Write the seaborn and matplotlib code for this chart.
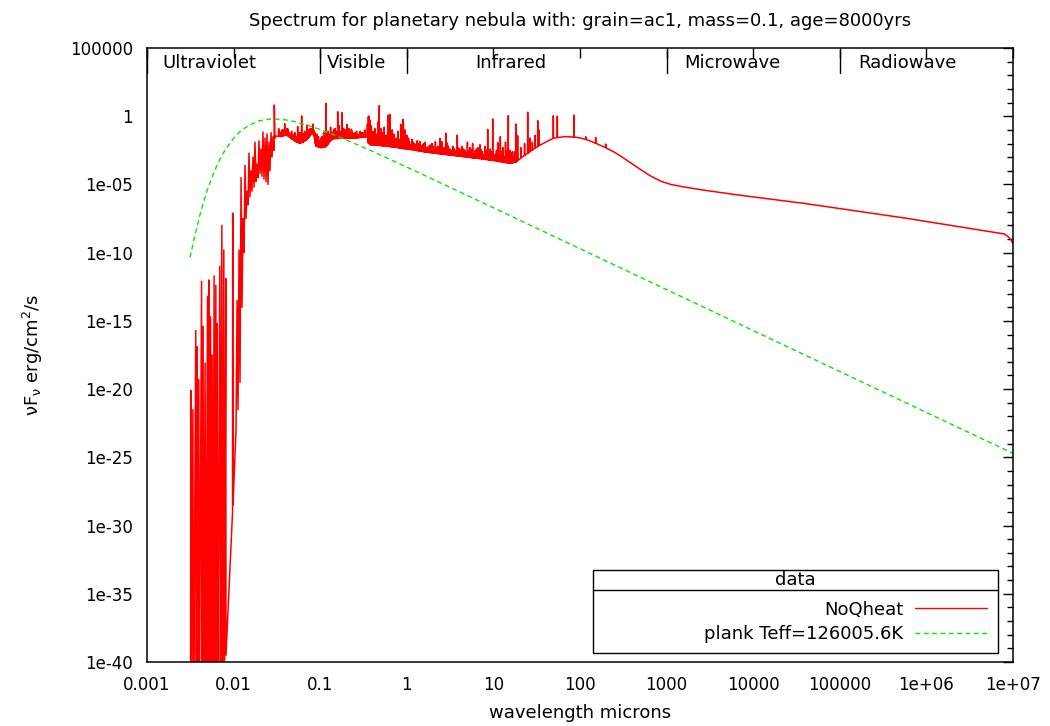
import numpy as np
import pandas as pd
import matplotlib
matplotlib.use("Agg")
import matplotlib.pyplot as plt
import seaborn as sns
from matplotlib.ticker import FixedLocator, NullLocator, NullFormatter
from matplotlib.lines import Line2D
from matplotlib.patches import Rectangle

# ---------------- text ----------------
title = "Spectrum for planetary nebula with: grain=ac1, mass=0.1, age=8000yrs"
xlabel = "wavelength microns"
ylabel = r"$\mathrm{\nu F_{\nu}}$ erg/cm$^{2}$/s"
series_names = ["NoQheat", "plank Teff=126005.6K"]
legend_title = "data"

x_ticks = [1e-3, 1e-2, 1e-1, 1e0, 1e1, 1e2, 1e3, 1e4, 1e5, 1e6, 1e7]
x_tick_labels = ["0.001", "0.01", "0.1", "1", "10", "100", "1000", "10000",
                 "100000", "1e+06", "1e+07"]
y_ticks = [1e5, 1e0, 1e-5, 1e-10, 1e-15, 1e-20, 1e-25, 1e-30, 1e-35, 1e-40]
y_tick_labels = ["100000", "1", "1e-05", "1e-10", "1e-15", "1e-20", "1e-25",
                 "1e-30", "1e-35", "1e-40"]
y_minor_exponents = list(range(-40, 6))

region_names = ["Ultraviolet", "Visible", "Infrared", "Microwave", "Radiowave"]
region_label_wl = [0.0053, 0.266, 16.0, 5700.0, 6.0e5]
region_bounds_wl = [0.001, 0.1, 1.0, 1000.0, 1.0e5]

# ---------------- NoQheat spectrum (log10 values) -------
# UV line forest and steep rise (explicit points)
uv_wl_log = [-2.497, -2.494, -2.487, -2.470, -2.462, -2.437, -2.431, -2.420,
             -2.414, -2.402, -2.396, -2.370, -2.364, -2.352, -2.346, -2.329,
             -2.322, -2.301, -2.294, -2.286, -2.280, -2.266, -2.260, -2.248,
             -2.241, -2.225, -2.219, -2.205, -2.199, -2.190, -2.184, -2.159,
             -2.153, -2.136, -2.130, -2.113, -2.107, -2.090, -2.088, -2.012,
             -2.010, -2.007,
             -1.972, -1.960, -1.949, -1.937, -1.926, -1.914, -1.903, -1.891,
             -1.880, -1.868, -1.857, -1.845, -1.834, -1.822, -1.811, -1.799,
             -1.788, -1.776, -1.764, -1.753, -1.741, -1.730, -1.718, -1.707,
             -1.695, -1.684, -1.672, -1.661, -1.649, -1.637, -1.626, -1.614,
             -1.603, -1.591, -1.580, -1.568, -1.557, -1.545, -1.533, -1.530,
             -1.522]
uv_flux_log = [-45, -20.1, -45, -21.5, -45, -15.7, -45, -16.9,
               -45, -19.3, -45, -12.1, -45, -15.4, -45, -18.1,
               -45, -13.2, -45, -12.0, -45, -14.7, -45, -17.5,
               -45, -11.7, -45, -12.4, -45, -15.2, -45, -11.0,
               -45, -8.0, -45, -9.8, -45, -11.9, -39.5, -29.0,
               -7.1, -28.5,
               -23.0, -13.5, -21.5, -9.8, -19.5, -4.5, -14.0, -7.5,
               -10.0, -3.6, -7.5, -5.5, -6.5, -2.7, -5.9, -4.0,
               -5.5, -3.0, -5.2, -1.9, -4.8, -3.5, -4.5, -1.8,
               -4.2, -2.4, -4.4, -1.16, -4.6, -1.6, -4.8, -1.3,
               -5.0, -1.9, -4.0, -1.2, -3.0, -1.5, -2.5, 0.82,
               -1.6]

# continuum from the plateau to the radio
cont_wl_log = [-1.51, -1.46, -1.42, -1.39, -1.35, -1.31, -1.27, -1.23, -1.19,
               -1.16, -1.12, -1.09, -1.07, -1.05, -1.00, -0.96, -0.93, -0.89,
               -0.85, -0.78, -0.69, -0.60, -0.52, -0.47, -0.45, -0.42, -0.30,
               -0.18, -0.08, 0.15, 0.38, 0.60, 0.77, 0.95, 1.10, 1.20, 1.25,
               1.30, 1.38, 1.46, 1.54, 1.64, 1.73, 1.83, 1.92, 2.02, 2.12,
               2.23, 2.31, 2.40, 2.47, 2.58, 2.70, 2.82, 2.94, 3.05, 3.17,
               3.41, 3.80, 4.59, 5.76, 6.90, 6.94, 6.97, 7.00]
cont_flux_log = [-1.45, -1.50, -1.42, -1.38, -1.55, -1.74, -1.90, -1.99, -1.85,
                 -1.74, -1.45, -1.20, -1.50, -2.20, -2.30, -2.28, -2.20, -1.85,
                 -1.65, -1.62, -1.62, -1.60, -1.55, -1.50, -1.95, -2.10, -2.15,
                 -2.25, -2.35, -2.55, -2.75, -2.92, -3.05, -3.20, -3.35, -3.45,
                 -3.35, -3.15, -2.78, -2.42, -2.11, -1.78, -1.57, -1.50, -1.52,
                 -1.62, -1.82, -2.12, -2.35, -2.65, -2.92, -3.40, -3.91, -4.40,
                 -4.78, -5.00, -5.15, -5.40, -5.75, -6.39, -7.47, -8.63, -8.81,
                 -9.00, -9.33]

# strong emission lines: wavelength, peak, underlying level
line_wl_log = [-1.48, -1.44, -1.41, -1.37, -1.33, -1.29, -1.26, -1.214, -1.18,
               -1.15, -1.13, -1.10, -1.08, -1.06, -1.04, -1.02, -0.99, -0.96,
               -0.933, -0.91, -0.88, -0.86, -0.83, -0.798, -0.78, -0.76, -0.748,
               -0.73, -0.71, -0.69, -0.66, -0.64, -0.61, -0.58, -0.55, -0.52,
               -0.455, -0.444, -0.435, -0.425, -0.41, -0.39, -0.37, -0.35,
               -0.33, -0.318, -0.30, -0.28, -0.26, -0.24, -0.214, -0.194,
               -0.17, -0.15, -0.12, -0.10, -0.07, -0.047, -0.04, -0.02, 0.00,
               0.03, 0.06, 0.09, 0.12, 0.15, 0.18, 0.21, 0.25, 0.29, 0.33,
               0.36, 0.383, 0.403, 0.42, 0.45, 0.468, 0.50, 0.53, 0.56, 0.583,
               0.61, 0.64, 0.67, 0.70, 0.73, 0.76, 0.79, 0.82, 0.845, 0.87,
               0.90, 0.934, 0.96, 0.992, 1.02, 1.05, 1.08, 1.11, 1.14, 1.172,
               1.19, 1.22, 1.258, 1.28, 1.32, 1.36, 1.396, 1.42, 1.45, 1.48,
               1.512, 1.527, 1.692, 1.738, 1.931, 2.066, 2.181, 2.297]
line_peak_log = [-0.9, -1.0, -0.55, -0.95, -1.1, -1.2, -0.75, 0.02, -1.1,
                 -0.64, -1.0, -0.9, -0.57, -1.2, -1.3, -1.5, -1.6, -1.2,
                 0.95, -1.1, -0.8, -1.2, -0.9, 0.33, -0.7, -1.1, 0.26,
                 -0.9, -1.0, -0.6, -1.2, -0.95, -1.25, -1.1, -1.3, -1.2,
                 -0.6, -0.03, 0.02, -0.3, -0.7, -1.1, -0.9, -1.3,
                 -0.4, 0.77, -0.9, -1.2, -0.8, -1.4, 0.09, 0.14,
                 -1.0, -1.3, -1.6, -1.1, -0.6, -0.28, -0.23, -1.0, -1.4,
                 -1.9, -1.7, -2.0, -1.8, -1.85, -2.1, -1.9, -2.2, -2.0, -1.87,
                 -2.2, -1.62, -1.85, -2.3, -1.25, -1.97, -2.4, -2.2, -2.5, -1.38,
                 -2.4, -2.2, -2.5, -1.9, -2.3, -2.0, -2.5, -2.3, -2.09, -2.6,
                 -2.2, -0.96, -2.4, -0.2, -2.8, -1.94, -1.5, -2.3, -1.9, 0.04,
                 -2.5, -2.6, -0.57, -1.43, -2.3, -2.0, 0.29, -1.6, -1.9, -1.4,
                 -0.33, -1.01, 0.04, 0.0, 0.09, -1.50, -1.55, -2.04]
line_base_log = [-1.48, -1.46, -1.41, -1.45, -1.65, -1.82, -1.92, -1.93, -1.82,
                 -1.70, -1.55, -1.28, -1.30, -1.80, -2.20, -2.25, -2.30, -2.28,
                 -2.20, -2.05, -1.80, -1.68, -1.64, -1.63, -1.62, -1.62, -1.62,
                 -1.62, -1.62, -1.62, -1.61, -1.61, -1.60, -1.59, -1.57, -1.55,
                 -1.50, -1.90, -2.00, -2.05, -2.10, -2.10, -2.10, -2.12,
                 -2.13, -2.14, -2.15, -2.16, -2.18, -2.19, -2.21, -2.22,
                 -2.24, -2.25, -2.28, -2.30, -2.35, -2.37, -2.37, -2.38, -2.40,
                 -2.42, -2.45, -2.47, -2.52, -2.55, -2.58, -2.62, -2.65, -2.68, -2.72,
                 -2.74, -2.75, -2.77, -2.78, -2.80, -2.82, -2.84, -2.86, -2.88, -2.90,
                 -2.93, -2.95, -2.97, -3.00, -3.02, -3.05, -3.06, -3.08, -3.10, -3.12,
                 -3.15, -3.18, -3.20, -3.22, -3.25, -3.28, -3.32, -3.36, -3.40, -3.42,
                 -3.44, -3.43, -3.38, -3.25, -3.05, -2.88, -2.72, -2.60, -2.47, -2.35,
                 -2.22, -2.15, -1.62, -1.56, -1.52, -1.70, -1.98, -2.30]

# weak emission lines filling the forest: wavelength, peak, underlying level
weak_wl_log = [-1.47, -1.455, -1.43, -1.40, -1.385, -1.36, -1.345, -1.32, -1.30,
               -1.275, -1.245, -1.235, -1.20, -1.195, -1.17, -1.14, -1.115,
               -1.075, -1.055, -1.035, -1.01, -0.98, -0.97, -0.945, -0.92,
               -0.90, -0.87, -0.845, -0.82, -0.81, -0.79, -0.77, -0.74, -0.72,
               -0.70, -0.68, -0.67, -0.65, -0.63, -0.62, -0.595, -0.57, -0.54,
               -0.50, -0.48,
               -0.29, -0.27, -0.25, -0.23, -0.22, -0.205, -0.185, -0.16, -0.14,
               -0.13, -0.11, -0.09, -0.06, -0.03, 0.01, 0.02, 0.045, 0.075,
               0.105, 0.135, 0.165, 0.195, 0.23, 0.27,
               0.305, 0.325, 0.345, 0.37, 0.39, 0.41, 0.435, 0.46, 0.48, 0.515,
               0.545, 0.57, 0.595, 0.625, 0.655, 0.685, 0.715, 0.745, 0.775,
               0.805, 0.835, 0.86, 0.885, 0.915, 0.945, 0.975, 1.005, 1.035,
               1.065, 1.095, 1.125, 1.155, 1.18, 1.205, 1.235, 1.245]
weak_peak_log = [-1.1, -1.2, -1.0, -1.1, -0.9, -1.2, -1.3, -1.4, -1.3,
                 -1.5, -1.4, -1.2, -1.4, -1.3, -1.2, -1.0, -0.9,
                 -1.0, -1.6, -1.7, -1.8, -1.5, -1.7, -1.5, -1.4,
                 -1.3, -1.2, -1.0, -1.1, -1.2, -0.9, -1.2, -1.3, -1.1,
                 -1.3, -1.1, -0.9, -1.3, -1.1, -1.35, -1.2, -1.35, -1.1,
                 -1.2, -1.0,
                 -1.8, -1.6, -1.9, -1.7, -1.5, -1.8, -1.9, -1.6, -1.9,
                 -1.7, -2.0, -1.7, -1.9, -1.7, -2.0, -1.6, -2.1, -1.9,
                 -2.1, -2.0, -2.2, -2.0, -2.3, -2.1,
                 -2.2, -2.45, -2.3, -2.5, -2.1, -2.45, -2.3, -2.55, -2.2, -2.5,
                 -2.35, -2.6, -2.3, -2.55, -2.4, -2.7, -2.5, -2.45, -2.75,
                 -2.4, -2.7, -2.45, -2.8, -2.5, -2.75, -2.6, -2.9, -2.5,
                 -2.85, -2.6, -2.95, -2.55, -2.9, -2.7, -2.95, -2.6]
weak_base_log = [-1.47, -1.48, -1.44, -1.40, -1.39, -1.50, -1.58, -1.68, -1.76,
                 -1.88, -1.95, -1.98, -1.89, -1.88, -1.78, -1.60, -1.40,
                 -1.40, -2.00, -2.22, -2.28, -2.29, -2.28, -2.25, -2.10,
                 -1.95, -1.75, -1.65, -1.63, -1.63, -1.62, -1.62, -1.62, -1.62,
                 -1.62, -1.62, -1.62, -1.61, -1.61, -1.61, -1.60, -1.58, -1.56,
                 -1.53, -1.51,
                 -2.16, -2.17, -2.18, -2.20, -2.20, -2.21, -2.23, -2.24, -2.26,
                 -2.27, -2.29, -2.32, -2.35, -2.38, -2.41, -2.41, -2.44, -2.46,
                 -2.50, -2.53, -2.56, -2.60, -2.63, -2.67,
                 -2.685, -2.70, -2.72, -2.74, -2.76, -2.77, -2.79, -2.81, -2.83, -2.85,
                 -2.88, -2.90, -2.92, -2.94, -2.96, -2.98, -3.01, -3.03, -3.05,
                 -3.08, -3.10, -3.12, -3.15, -3.17, -3.20, -3.22, -3.25, -3.29,
                 -3.32, -3.35, -3.38, -3.41, -3.43, -3.44, -3.38, -3.36]

# ---------------- Planck curve (log10 values) ----------
planck_wl = [0.00314, 0.0035, 0.004, 0.0045, 0.005, 0.006, 0.007, 0.008, 0.01,
             0.012, 0.015, 0.02, 0.025, 0.03, 0.04, 0.05, 0.07, 0.1, 0.15, 0.2,
             0.3, 0.5, 0.7, 1.0, 2.0, 5.0, 10.0, 100.0, 1e3, 1e4, 1e5, 1e6, 1e7]
planck_flux_log = [-10.35, -9.0, -7.46, -6.28, -5.36, -4.03, -3.11, -2.46, -1.61,
                   -1.10, -0.66, -0.33, -0.22, -0.20, -0.27, -0.39, -0.64, -0.98,
                   -1.41, -1.74, -2.22, -2.85, -3.28, -3.73, -4.62, -5.81, -6.71,
                   -9.71, -12.71, -15.71, -18.71, -21.71, -24.71]

# ---------------- assemble data frames ----------------
LINE_HALF_WIDTH = 0.0012
seg_wl = list(cont_wl_log)
seg_f = list(cont_flux_log)
for w, p, b in zip(line_wl_log + weak_wl_log, line_peak_log + weak_peak_log,
                   line_base_log + weak_base_log):
    seg_wl += [w - LINE_HALF_WIDTH, w, w + LINE_HALF_WIDTH]
    seg_f += [b, p, b]
order = np.argsort(seg_wl, kind="stable")
red_wl_log = np.concatenate([uv_wl_log, np.asarray(seg_wl)[order]])
red_f_log = np.concatenate([uv_flux_log, np.asarray(seg_f)[order]])

df_red = pd.DataFrame({"wl": 10.0 ** red_wl_log, "flux": 10.0 ** red_f_log,
                       "series": series_names[0]})
df_planck = pd.DataFrame({"wl": planck_wl, "flux": 10.0 ** np.asarray(planck_flux_log),
                          "series": series_names[1]})

# ---------------- plot ----------------
sns.set_theme(style="white")
plt.rcParams["font.family"] = ["DejaVu Sans"]
plt.rcParams["text.color"] = "black"
plt.rcParams["axes.labelcolor"] = "black"
plt.rcParams["xtick.color"] = "black"
plt.rcParams["ytick.color"] = "black"
FS_TICK = 12
FS = 13

fig = plt.figure(figsize=(10.5, 7.26), dpi=100)
ax = fig.add_axes([147 / 1050, 1 - 662 / 726, 866 / 1050, 614 / 726])
ax.set_xscale("log")
ax.set_yscale("log")

RED = "#ff0000"
GREEN = "#00ee00"
sns.lineplot(data=df_red, x="wl", y="flux", sort=False, estimator=None,
             color=RED, lw=1.1, ax=ax, legend=False)
sns.lineplot(data=df_planck, x="wl", y="flux", sort=False, estimator=None,
             color=GREEN, lw=1.0, ax=ax, legend=False)
ax.lines[-1].set_dashes([3.5, 2.5])

ax.set_xlim(1e-3, 1e7)
ax.set_ylim(1e-40, 1e5)

ax.xaxis.set_major_locator(FixedLocator(x_ticks))
ax.set_xticklabels(x_tick_labels)
ax.xaxis.set_minor_locator(NullLocator())
ax.yaxis.set_major_locator(FixedLocator(y_ticks))
ax.set_yticklabels(y_tick_labels)
ax.yaxis.set_minor_locator(FixedLocator([10.0 ** e for e in y_minor_exponents]))
ax.yaxis.set_minor_formatter(NullFormatter())

for s in ax.spines.values():
    s.set_color("black")
    s.set_linewidth(1.1)
ax.tick_params(which="both", direction="in", top=True, right=True,
               color="black", labelsize=FS_TICK, labelcolor="black")
ax.tick_params(which="major", length=7, width=1.0)
ax.tick_params(which="minor", length=4, width=1.0)
ax.tick_params(axis="x", pad=10)
ax.tick_params(axis="y", pad=10)

ax.set_title(title, fontsize=FS, pad=16, color="black")
ax.set_xlabel(xlabel, fontsize=FS, labelpad=7, color="black")
ax.set_ylabel(ylabel, fontsize=FS, labelpad=18, color="black")

# region markers along the top
for b in region_bounds_wl:
    ax.axvline(b, ymin=0.959, ymax=0.997, color="black", lw=1.0)
for name, w in zip(region_names, region_label_wl):
    ax.text(w, 0.976, name, transform=ax.get_xaxis_transform(),
            ha="center", va="center", fontsize=FS, color="black")

# legend box
bx0, bx1 = (593 - 147) / 866, (998 - 147) / 866
by0, by1 = (662 - 653) / 614, (662 - 570) / 614
ydiv = (662 - 590) / 614
ax.add_patch(Rectangle((bx0, by0), bx1 - bx0, by1 - by0, transform=ax.transAxes,
                       facecolor="white", edgecolor="black", lw=1.0, zorder=5))
ax.plot([bx0, bx1], [ydiv, ydiv], transform=ax.transAxes, color="black",
        lw=1.0, zorder=6)
ax.text((bx0 + bx1) / 2, (662 - 580) / 614, legend_title, transform=ax.transAxes,
        ha="center", va="center", fontsize=FS, color="black", zorder=7)
handles = [Line2D([], [], color=RED, lw=1.0),
           Line2D([], [], color=GREEN, lw=1.0, dashes=[3.5, 2.5])]
leg = ax.legend(handles, series_names, loc="lower right",
                bbox_to_anchor=((987 - 147) / 866, (662 - 643) / 614),
                frameon=False, markerfirst=False, fontsize=FS,
                handlelength=4.0, handletextpad=0.65, labelspacing=0.35,
                borderpad=0, borderaxespad=0, labelcolor="black")
leg.set_zorder(8)

fig.savefig("out.png", dpi=100)
